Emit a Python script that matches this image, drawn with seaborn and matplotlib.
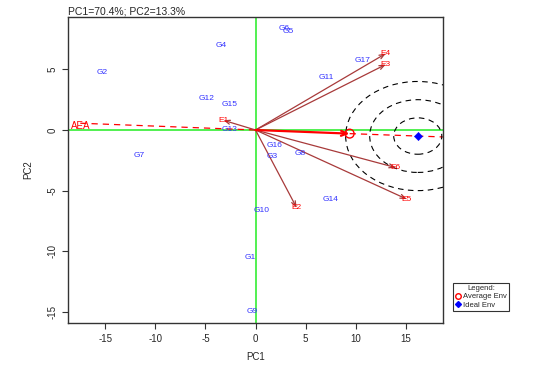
import matplotlib
matplotlib.use("Agg")
import matplotlib.pyplot as plt
import seaborn as sns
import pandas as pd
from matplotlib.patches import Ellipse
from matplotlib.lines import Line2D

sns.set_theme(style="white")
plt.rcParams['font.family'] = ['Liberation Sans', 'DejaVu Sans']
plt.rcParams['axes.unicode_minus'] = False

# Genotype scores
gen_names = ["G1", "G2", "G3", "G4", "G5", "G6", "G7", "G8", "G9", "G10",
             "G11", "G12", "G13", "G14", "G15", "G16", "G17"]
gen_pc1 = [-0.5, -15.3, 1.7, -3.4, 3.3, 2.9, -11.6, 4.5, -0.3, 0.6,
           7.1, -4.9, -2.6, 7.5, -2.6, 1.9, 10.7]
gen_pc2 = [-10.5, 4.7, -2.2, 7.0, 8.1, 8.4, -2.1, -1.9, -15.0, -6.6,
           4.3, 2.6, 0.0, -5.7, 2.1, -1.3, 5.7]

# Environment scores
env_names = ["E1", "E2", "E3", "E4", "E5", "E6"]
env_pc1 = [-3.2, 4.1, 13.0, 13.0, 15.1, 14.0]
env_pc2 = [0.8, -6.4, 5.4, 6.3, -5.7, -3.1]

avg_env = (9.4, -0.3)
ideal_env = (16.2, -0.5)
circle_r = [1, 2, 3]

fig = plt.figure(figsize=(5.46, 3.66), dpi=100)
ax = fig.add_axes([0.125, 0.118, 0.686, 0.835])
ax.set_xlim(-18.7, 18.7)
ax.set_ylim(-15.9, 9.3)

# axes lines
ax.axhline(0, color="#33ee33", lw=1.2, zorder=1)
ax.axvline(0, color="#33ee33", lw=1.2, zorder=1)

# AEA line
slope = avg_env[1] / avg_env[0]
ax.plot([-17.5, 0], [-17.5 * slope, 0], color="red", ls=(0, (5, 4)), lw=0.9, zorder=2)
slope2 = (ideal_env[1] - avg_env[1]) / (ideal_env[0] - avg_env[0])
ax.plot([avg_env[0], 18.7], [avg_env[1], avg_env[1] + (18.7 - avg_env[0]) * slope2],
        color="red", ls=(0, (5, 4)), lw=0.9, zorder=2)
ax.text(-18.4, 0.35, "AEA", color="red", fontsize=7, va="center", ha="left")

# concentric ellipses
for r in circle_r:
    e = Ellipse(ideal_env, width=2 * 2.4 * r, height=2 * 1.5 * r, fill=False,
                ec="black", ls=(0, (5, 4)), lw=0.8, zorder=2)
    ax.add_patch(e)

# environment vectors
for n, x, y in zip(env_names, env_pc1, env_pc2):
    ax.annotate("", xy=(x, y), xytext=(0, 0),
                arrowprops=dict(arrowstyle="->,head_length=0.3,head_width=0.12",
                                color="#a83a3a", lw=0.9, shrinkA=0, shrinkB=0), zorder=3)
    ax.text(x, y, n, color="red", fontsize=6, ha="center", va="center", zorder=4)

# average env vector
ax.annotate("", xy=avg_env, xytext=(0, 0),
            arrowprops=dict(arrowstyle="->,head_length=0.35,head_width=0.15",
                            color="red", lw=1.6, shrinkA=0, shrinkB=0), zorder=3)

# genotype labels
gdf = pd.DataFrame({"PC1": gen_pc1, "PC2": gen_pc2, "name": gen_names})
for _, r in gdf.iterrows():
    ax.text(r.PC1, r.PC2, r["name"], color="#3333ff", fontsize=6, ha="center", va="center", zorder=4)

# special env markers
mdf = pd.DataFrame({"PC1": [avg_env[0], ideal_env[0]], "PC2": [avg_env[1], ideal_env[1]],
                    "kind": ["Average Env", "Ideal Env"]})
sns.scatterplot(data=mdf[mdf.kind == "Average Env"], x="PC1", y="PC2", ax=ax, marker="o",
                s=40, facecolor="none", edgecolor="red", linewidth=1.0, zorder=5, legend=False)
sns.scatterplot(data=mdf[mdf.kind == "Ideal Env"], x="PC1", y="PC2", ax=ax, marker="D",
                s=18, color="blue", edgecolor="blue", zorder=5, legend=False)

# axes style
for s in ax.spines.values():
    s.set_color("#333333")
    s.set_linewidth(1.0)
ax.set_xticks([-15, -10, -5, 0, 5, 10, 15])
ax.set_yticks([-15, -10, -5, 0, 5])
ax.tick_params(axis="both", which="both", length=4, width=0.8, color="#333333",
               labelsize=7, bottom=True, left=True, pad=4)
for lab in ax.get_yticklabels():
    lab.set_rotation(90)
    lab.set_va("center")
ax.set_xlabel("PC1", fontsize=7, labelpad=6)
ax.set_ylabel("PC2", fontsize=7, labelpad=10)
ax.set_title("PC1=70.4%; PC2=13.3%", fontsize=7.5, loc="left", pad=2, x=0.0)

# legend
handles = [Line2D([], [], marker="o", ls="none", mfc="none", mec="red", ms=4, label="Average Env"),
           Line2D([], [], marker="D", ls="none", mfc="blue", mec="blue", ms=3, label="Ideal Env")]
leg = fig.legend(handles=handles, title="Legend:", loc="upper left",
                 bbox_to_anchor=(453 / 546, 1 - 283 / 366), fontsize=5.5, title_fontsize=5.5,
                 frameon=True, fancybox=False, edgecolor="black", handletextpad=0.2,
                 borderpad=0.3, labelspacing=0.1, handlelength=0.8, borderaxespad=0)
leg.get_frame().set_linewidth(0.8)

fig.savefig("out.png", dpi=100, facecolor="white")
